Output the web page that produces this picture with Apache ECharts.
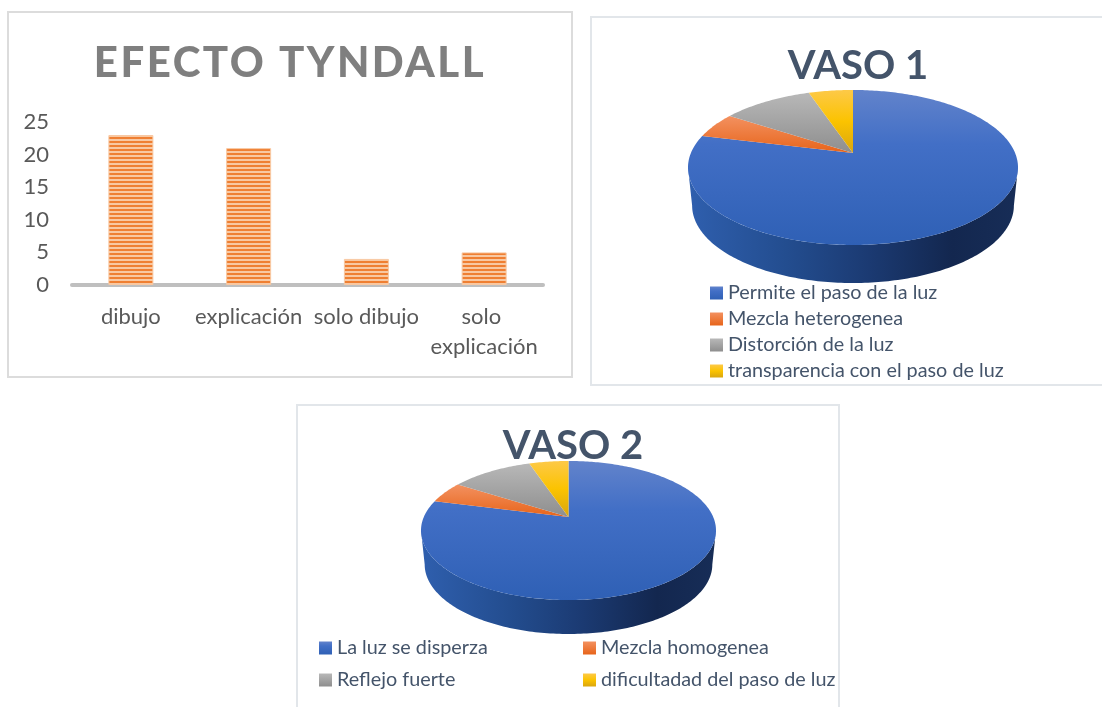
<!DOCTYPE html>
<html><head><meta charset="utf-8">
<style>html,body{margin:0;padding:0;background:#fff}#c{width:1102px;height:707px}</style>
<script src="https://cdn.jsdelivr.net/npm/echarts@6/dist/echarts.min.js"></script>
</head><body><div id="c"></div>
<script>
const barCategories = ['dibujo','explicación','solo dibujo','solo explicación'];
const barValues = [23,21,4,5];
const yTicks = {min:0,max:25,interval:5};

const vaso1Labels = ['Permite el paso de la luz','Mezcla heterogenea','Distorción de la luz','transparencia con el paso de luz'];
const vaso1Values = [78.8,5.4,10.6,5.2];
const vaso2Labels = ['La luz se disperza','Mezcla homogenea','Reflejo fuerte','dificultadad del paso de luz'];
const vaso2Values = [79,5,10.8,5.2];

const FONT = 'Lato, sans-serif';
const spacedTitle = 'EFECTO TYNDALL';
const origFill = CanvasRenderingContext2D.prototype.fillText;
CanvasRenderingContext2D.prototype.fillText = function(t,x,y,m){
  if(t===spacedTitle && 'letterSpacing' in this){
    this.letterSpacing='2.5px';
    origFill.call(this,t,x,y); this.letterSpacing='0px'; return;
  }
  return m===undefined?origFill.call(this,t,x,y):origFill.call(this,t,x,y,m);
};

function stripes(){
  const c=document.createElement('canvas');c.width=4;c.height=4;
  const g=c.getContext('2d');
  g.fillStyle='#f8c8a2';g.fillRect(0,0,4,4);
  g.fillStyle='#ef7f32';g.fillRect(0,1,4,2);
  return c;
}
const grad=(stops,h)=>({type:'linear',x:0,y:0,x2:h?1:0,y2:h?0:1,
  colorStops:stops.map((s,i)=>({offset:s[0],color:s[1]}))});
const sliceColors=[
  grad([[0,'#6283cb'],[0.35,'#426fc6'],[1,'#2f60b5']]),
  grad([[0,'#f39160'],[1,'#e7641a']]),
  grad([[0,'#b8b8b8'],[1,'#8e8e8e']]),
  grad([[0,'#fdc948'],[0.5,'#fbc300'],[1,'#d9a610']])
];
const wallColor=grad([[0,'#2f5fae'],[0.3,'#234d8f'],[0.55,'#1b3a72'],[0.8,'#13274f'],[1,'#172d57']],true);

const layout1={cx:853,cy:153,R:162.1,B:74.8,k:0.187,depth:38,taper:0.975};
const layout2={cx:568.5,cy:517,R:144.7,B:66.9,k:0.194,depth:34,taper:0.975};

function project(L,t){
  const u=Math.sin(t),v=-Math.cos(t),w=1-L.k*v;
  return [L.cx+L.R*u/w, L.cy+L.B*v/w];
}
function arc(L,a,b){
  const pts=[],n=Math.max(2,Math.ceil((b-a)/(Math.PI/180)));
  for(let i=0;i<=n;i++)pts.push(project(L,a+(b-a)*i/n));
  return pts;
}
function pieSeries(labels,values,L){
  const total=values.reduce((a,b)=>a+b,0);
  let acc=0;
  return labels.map((name,i)=>{
    const start=acc/total; acc+=values[i]; const end=acc/total;
    return {
      type:'custom',name,coordinateSystem:'none',silent:true,
      itemStyle:{color:sliceColors[i]},
      data:[[start,end]],
      renderItem(p,api){
        const a=api.value(0)*2*Math.PI,b=api.value(1)*2*Math.PI;
        const children=[];
        const fl=Math.acos(-L.k),fr=2*Math.PI-fl;
        const wa=Math.max(a,fl),wb=Math.min(b,fr);
        if(wb>wa){
          const top=arc(L,wa,wb);
          const bot=top.slice().reverse().map(q=>[L.cx+(q[0]-L.cx)*L.taper,q[1]+L.depth]);
          children.push({type:'polygon',shape:{points:top.concat(bot)},style:{fill:i===0?wallColor:sliceColors[i]}});
        }
        children.push({type:'polygon',shape:{points:[[L.cx,L.cy]].concat(arc(L,a,b))},style:{fill:sliceColors[i]}});
        return {type:'group',children};
      }
    };
  });
}
const legendBase={icon:'rect',itemWidth:13,itemHeight:13,selectedMode:false,
  textStyle:{fontFamily:FONT,fontSize:19.8,lineHeight:20,color:'#44546a'},padding:0};
const frame=(x,y,w,h,c)=>({type:'rect',silent:true,z:-1,shape:{x,y,width:w,height:h},style:{fill:'#fff',stroke:c,lineWidth:2}});

const chart=echarts.init(document.getElementById('c'),null,{renderer:'canvas'});
chart.setOption({
  animation:false,backgroundColor:'#fff',
  graphic:[
    frame(8,12,564,365,'#dcdcdc'),
    frame(591,17,540,368,'#e2e6ea'),
    frame(297,405,542,340,'#e2e6ea')
  ],
  title:[
    {text:spacedTitle,left:285,top:37,textAlign:'center',textStyle:{fontFamily:FONT,fontWeight:900,fontSize:42,color:'#7f7f7f'}},
    {text:'VASO 1',left:853,top:41,textAlign:'center',textStyle:{fontFamily:FONT,fontWeight:'bold',fontSize:40,color:'#44546a'}},
    {text:'VASO 2',left:568,top:421,textAlign:'center',textStyle:{fontFamily:FONT,fontWeight:'bold',fontSize:40,color:'#44546a'}}
  ],
  grid:{left:72,top:122,width:471,height:163,containLabel:false},
  xAxis:{type:'category',data:barCategories,
    axisLine:{lineStyle:{color:'#bfbfbf',width:4}},axisTick:{show:false},
    axisLabel:{interval:0,margin:17,fontFamily:FONT,fontSize:22,color:'#595959',lineHeight:30,width:118,overflow:'break',align:'center'}},
  yAxis:{type:'value',min:yTicks.min,max:yTicks.max,interval:yTicks.interval,
    splitLine:{show:false},axisLine:{show:false},axisTick:{show:false},
    axisLabel:{margin:23,fontFamily:FONT,fontSize:22,color:'#595959',padding:[4,0,0,0]}},
  legend:[
    Object.assign({},legendBase,{orient:'vertical',left:710,top:283,itemGap:6,data:vaso1Labels}),
    Object.assign({},legendBase,{orient:'vertical',left:319,top:638,itemGap:12,data:[vaso2Labels[0],vaso2Labels[2]]}),
    Object.assign({},legendBase,{orient:'vertical',left:583,top:638,itemGap:12,data:[vaso2Labels[1],vaso2Labels[3]]})
  ],
  series:[
    {type:'bar',data:barValues,barWidth:45,silent:true,
      itemStyle:{color:{image:stripes(),repeat:'repeat'},borderColor:'#f8c8a2',borderWidth:1}},
    ...pieSeries(vaso1Labels,vaso1Values,layout1),
    ...pieSeries(vaso2Labels,vaso2Values,layout2)
  ]
});
</script></body></html>
